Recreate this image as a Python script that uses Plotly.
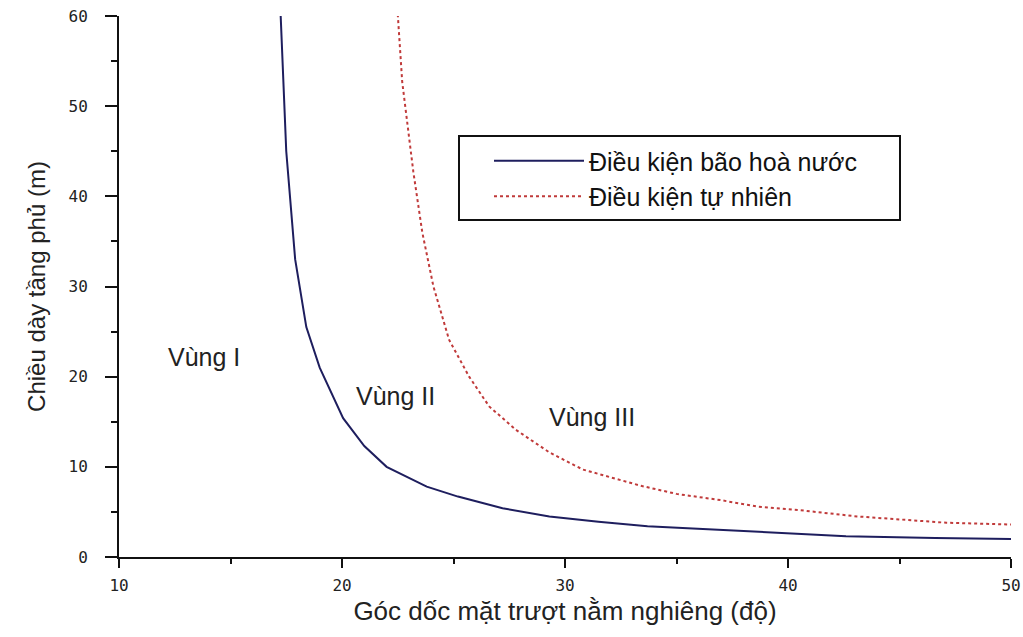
import plotly.graph_objects as go

# Solid curve: saturated condition
sat_x = [17.25, 17.5, 17.9, 18.4, 19.0, 20.05, 21.0, 22.0, 23.8, 25.2, 27.2, 29.3, 31.5, 33.7, 35.5, 38.6, 40.5, 42.6, 46.6, 50.0]
sat_y = [60.0, 45.0, 33.0, 25.5, 21.0, 15.4, 12.3, 10.0, 7.8, 6.7, 5.4, 4.5, 3.9, 3.4, 3.2, 2.8, 2.5, 2.3, 2.1, 2.0]

# Dotted curve: natural condition
nat_x = [22.5, 22.7, 23.2, 23.6, 24.1, 24.8, 25.7, 26.6, 27.8, 29.3, 30.8, 33.4, 35.0, 37.0, 38.6, 40.5, 43.1, 45.6, 47.1, 50.0]
nat_y = [60.2, 52.7, 42.7, 36.0, 30.0, 24.1, 20.0, 16.7, 14.1, 11.6, 9.7, 7.9, 7.0, 6.3, 5.6, 5.2, 4.5, 4.1, 3.8, 3.6]

zone_labels = ["Vùng I", "Vùng II", "Vùng III"]
zone_x = [13.8, 22.4, 31.2]
zone_y = [22.2, 17.9, 15.5]

x_ticks = [10, 20, 30, 40, 50]
y_ticks = [0, 10, 20, 30, 40, 50, 60]

FONT = "Liberation Sans, Arial"
TICKFONT = "DejaVu Sans Mono, monospace"

fig = go.Figure()
fig.add_trace(go.Scatter(x=sat_x, y=sat_y, mode="lines", name="Điều kiện bão hoà nước",
                         line=dict(color="#1e1e5e", width=2)))
fig.add_trace(go.Scatter(x=nat_x, y=nat_y, mode="lines", name="Điều kiện tự nhiên",
                         line=dict(color="#c03a3a", width=2, dash="3px,3px")))

for t, x, y in zip(zone_labels, zone_x, zone_y):
    fig.add_annotation(x=x, y=y, text=t, showarrow=False, xanchor="center", yanchor="middle",
                       font=dict(family=FONT, size=25, color="#222"))

# legend frame
fig.add_shape(type="rect", xref="paper", yref="paper",
              x0=(459 - 119) / 892, x1=(900 - 119) / 892,
              y0=(557 - 220) / 541, y1=(557 - 136) / 541,
              line=dict(color="#111", width=2), fillcolor="rgba(0,0,0,0)")

axis_common = dict(showline=True, linecolor="#111", linewidth=2, showgrid=False, zeroline=False,
                   ticks="outside", tickcolor="#111", tickwidth=2, automargin=False,
                   tickfont=dict(family=TICKFONT, size=16, color="#222"))

fig.update_xaxes(range=[10, 50], tickvals=x_ticks, ticklen=9, ticklabelstandoff=4,
                 minor=dict(dtick=5, ticks="outside", ticklen=5, tickcolor="#111", tickwidth=2),
                 title=dict(text="Góc dốc mặt trượt nằm nghiêng (độ)", standoff=8,
                            font=dict(family=FONT, size=26, color="#222")),
                 **axis_common)
fig.update_yaxes(range=[0, 60], tickvals=y_ticks, ticklen=12, ticklabelstandoff=14,
                 minor=dict(dtick=5, ticks="outside", ticklen=6, tickcolor="#111", tickwidth=2),
                 title=dict(text="Chiều dày tầng phủ (m)", standoff=16,
                            font=dict(family=FONT, size=24, color="#222")),
                 **axis_common)

fig.update_layout(
    width=1023, height=637,
    margin=dict(l=119, r=12, t=16, b=80),
    plot_bgcolor="white", paper_bgcolor="white",
    showlegend=True,
    legend=dict(x=(489 - 119) / 892, y=(557 - 138) / 541, xanchor="left", yanchor="top",
                bgcolor="rgba(0,0,0,0)", borderwidth=0, itemwidth=90, tracegroupgap=0,
                font=dict(family=FONT, size=25, color="#111")),
)

fig.write_html("out.html", config={"displayModeBar": False},
               post_script="document.body.style.margin='0px';")
